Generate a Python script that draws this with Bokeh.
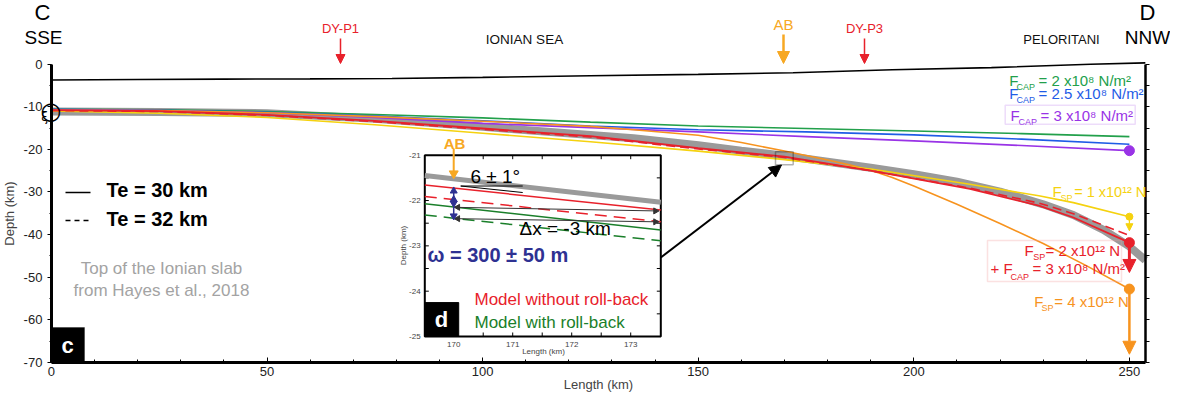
import numpy as np
from bokeh.plotting import figure
from bokeh.models import (Range1d, LinearAxis, FixedTicker, Label, Arrow,
                          NormalHead, BoxAnnotation)
from bokeh.core.properties import value
from bokeh.embed import file_html
from bokeh.resources import INLINE

FONT = "Liberation Sans"

# ---------------- data (Length km, Depth km) ----------------
surface_x = [0, 20, 40, 60, 79, 100, 125, 150, 172, 195, 218, 241, 253.7]
surface_y = [-3.7, -3.6, -3.5, -3.45, -3.35, -3.1, -2.7, -2.4, -2.0, -1.3, -0.8, 0.0, 0.3]

slab_x = [0, 25, 50, 75, 100, 125, 135, 150, 160, 170, 180, 190, 200, 210, 220, 230, 237, 244, 250, 253.7]
slab_y = [-11.1, -11.2, -11.5, -12.8, -14.7, -16.6, -17.4, -19.0, -20.3, -21.5, -22.9, -24.3,
          -25.8, -27.6, -29.9, -32.9, -35.4, -38.9, -42.8, -46.0]

cap_x = [0, 25, 50, 75, 100, 125, 150, 175, 200, 225, 250]
fcap2_y = [-10.6, -10.7, -11.1, -11.8, -12.6, -13.6, -14.5, -15.1, -15.7, -16.3, -17.0]
fcap25_y = [-10.6, -10.8, -11.3, -12.2, -13.3, -14.5, -15.4, -15.9, -16.6, -17.6, -18.8]
fcap3_y = [-10.7, -10.9, -11.4, -12.5, -13.9, -14.9, -15.9, -17.0, -18.0, -19.1, -20.3]

sp_x = [0, 25, 50, 75, 100, 125, 150, 170, 190, 213, 229, 237, 250]
fsp1_y = [-11.0, -11.5, -12.5, -14.2, -16.2, -18.2, -20.4, -22.4, -24.6, -28.2, -30.9, -32.5, -35.8]
fsp2_y = [-10.8, -11.0, -11.9, -13.3, -15.1, -16.9, -19.7, -21.7, -25.0, -29.3, -33.2, -36.0, -41.9]
fsp2_te32_y = [-10.9, -11.1, -12.0, -13.5, -15.3, -17.1, -19.9, -21.9, -25.0, -29.1, -32.6, -35.1, -40.2]

fsp4_x = [0, 25, 50, 75, 100, 125, 135, 150, 160, 170, 180, 185, 190, 195, 200, 210, 220, 230, 240, 250]
fsp4_y = [-10.8, -10.9, -11.4, -12.3, -13.4, -14.6, -15.4, -16.7, -18.4, -20.4, -22.5, -23.6, -24.9,
          -26.6, -28.6, -32.9, -37.4, -42.1, -47.3, -52.8]

tip_fsp1 = -39.1
tip_fsp2 = -48.9
tip_fsp4 = -68.1

# inset (d)
inset_x = [169.51, 173.51]
inset_slab = [-21.45, -22.04]
inset_red = [-21.66, -22.21]
inset_red_dash = [-21.91, -22.47]
inset_green = [-22.07, -22.65]
inset_green_dash = [-22.32, -22.89]
dx_y0 = [-22.15, -22.40]
dx_y1 = [-22.23, -22.47]
omega_y = [-21.75, -22.04, -22.38]

# ticks
x_major = [0, 50, 100, 150, 200, 250]
x_labels = ["0", "50", "100", "150", "200", "250"]
x_minor = list(range(0, 251, 10))
y_major = [0, -10, -20, -30, -40, -50, -60, -70]
y_labels = ["0", "-10", "-20", "-30", "-40", "-50", "-60", "-70"]
y_minor = list(range(0, -71, -5))
inset_xmajor = [170, 171, 172, 173]
inset_xlabels = ["170", "171", "172", "173"]
inset_xminor = [170, 170.5, 171, 171.5, 172, 172.5, 173]
inset_ymajor = [-21, -22, -23, -24, -25]
inset_ylabels = ["-21", "-22", "-23", "-24", "-25"]
inset_yminor = [-21.5, -22, -22.5, -23, -23.5, -24, -24.5]

X_END = 253.7
Y_BOTTOM = -70

GREEN, BLUE, PURPLE = "#22a04b", "#1f5ce6", "#9933e6"
YELLOW, RED, ORANGE = "#f5d20f", "#e8212b", "#f7931e"
GREY = "#9a9a9a"
AB_OR = "#f7a823"
DKGREEN = "#1a7f2a"
DKBLUE = "#2e3192"

# pixel helpers (reference picture -> data) for annotation placement only
def kx(px):
    return (px - 58.9) / 4.312

def dy(py):
    return (71.7 - py) / 4.259

def ix(px):
    return 170 + (px - 461) / 59.0

def iy(py):
    return -21 - (py - 162.7) / 45.3

p = figure(width=1170, height=397, x_range=Range1d(kx(8), kx(1178)), y_range=Range1d(dy(405), dy(8)),
           output_backend="svg", toolbar_location=None,
           min_border_left=0, min_border_right=0, min_border_top=0, min_border_bottom=0)
p.grid.visible = False
p.outline_line_color = None
p.background_fill_color = "white"

xa = p.xaxis[0]
xa.fixed_location = Y_BOTTOM
xa.bounds = (0, X_END)
xa.ticker = FixedTicker(ticks=x_major, minor_ticks=x_minor)
xa.major_label_overrides = dict(zip(x_major, x_labels))
xa.axis_line_width = 3
xa.major_tick_in = 5
xa.major_tick_out = 0
xa.minor_tick_in = 3
xa.minor_tick_out = 0
xa.major_label_standoff = 5
xa.major_label_text_font = FONT
xa.major_label_text_font_size = "13px"
xa.major_label_text_color = "#222222"
xa.axis_label = "Length (km)"
xa.axis_label_text_font = FONT
xa.axis_label_text_font_size = "13px"
xa.axis_label_text_font_style = "normal"
xa.axis_label_standoff = -3

ya = p.yaxis[0]
ya.fixed_location = 0
ya.bounds = (Y_BOTTOM, 0)
ya.ticker = FixedTicker(ticks=y_major, minor_ticks=y_minor)
ya.major_label_overrides = dict(zip(y_major, y_labels))
ya.axis_line_width = 3
ya.major_tick_out = 4
ya.major_tick_in = 0
ya.minor_tick_out = 2
ya.minor_tick_in = 0
ya.major_label_standoff = 5
ya.major_label_text_font = FONT
ya.major_label_text_font_size = "13px"
ya.major_label_text_color = "#222222"
ya.axis_label = "Depth (km)"
ya.axis_label_text_font = FONT
ya.axis_label_text_font_size = "13px"
ya.axis_label_text_font_style = "normal"
ya.axis_label_standoff = 4

ra = LinearAxis(fixed_location=X_END, bounds=(Y_BOTTOM, 0),
                ticker=FixedTicker(ticks=[], minor_ticks=y_minor),
                major_tick_out=0, major_tick_in=0, minor_tick_out=4, minor_tick_in=0,
                axis_line_width=2.5)
p.add_layout(ra, "right")

# ---------------- main curves ----------------
p.line(slab_x, slab_y, line_width=8, color=GREY, line_cap="butt")
p.line(surface_x, surface_y, line_width=1.6, color="black")
p.line(cap_x, fcap2_y, line_width=1.6, color=GREEN)
p.line(cap_x, fcap25_y, line_width=1.6, color=BLUE)
p.line(cap_x, fcap3_y, line_width=1.6, color=PURPLE)
p.line(fsp4_x, fsp4_y, line_width=1.6, color=ORANGE)
p.line(sp_x, fsp1_y, line_width=1.6, color=YELLOW)
p.line(sp_x, fsp2_te32_y, line_width=1.6, color=RED, line_dash="9 5")
p.line(sp_x, fsp2_y, line_width=1.8, color=RED)

p.scatter([cap_x[-1]], [fcap3_y[-1]], size=10, color=PURPLE)
p.scatter([sp_x[-1]], [fsp1_y[-1]], size=7, color=YELLOW)
p.scatter([sp_x[-1]], [fsp2_y[-1]], size=10, color=RED)
p.scatter([fsp4_x[-1]], [fsp4_y[-1]], size=10, color=ORANGE)

p.add_layout(Arrow(end=NormalHead(size=7, fill_color=YELLOW, line_color=YELLOW),
                   x_start=sp_x[-1], y_start=fsp1_y[-1], x_end=sp_x[-1], y_end=tip_fsp1,
                   line_color=YELLOW, line_width=1.2))
p.add_layout(Arrow(end=NormalHead(size=13, fill_color=RED, line_color=RED),
                   x_start=sp_x[-1], y_start=fsp2_y[-1], x_end=sp_x[-1], y_end=tip_fsp2,
                   line_color=RED, line_width=3))
p.add_layout(Arrow(end=NormalHead(size=13, fill_color=ORANGE, line_color=ORANGE),
                   x_start=fsp4_x[-1], y_start=fsp4_y[-1], x_end=fsp4_x[-1], y_end=tip_fsp4,
                   line_color=ORANGE, line_width=2.5))

# ---------------- labels helper ----------------
def lab(text, px, py, size, color="black", bold=False, align="left", angle=0, font=FONT):
    p.add_layout(Label(x=kx(px), y=dy(py), text=text, text_font=font,
                       text_font_size=f"{size}px", text_color=color,
                       text_font_style="bold" if bold else "normal",
                       text_align=align, text_baseline="middle", angle=angle))

# top annotations
lab("C", 50, 20, 22, align="center")
lab("SSE", 51, 45, 19, align="center")
lab("D", 1155, 20, 22, align="center")
lab("NNW", 1155, 45, 19, align="center")
lab("IONIAN SEA", 532, 47, 13.5, color="#111111", align="center")
lab("PELORITANI", 1069, 47, 13, color="#111111", align="center")
lab("DY-P1", 348, 36, 13, color=RED, align="center")
lab("DY-P3", 872, 36, 13, color=RED, align="center")
lab("AB", 791, 32, 15, color=AB_OR, align="center")
for px_, col, w, hs, y0 in [(348, RED, 1.5, 9, 46), (872, RED, 1.5, 9, 46), (791, AB_OR, 2.5, 12, 42)]:
    p.add_layout(Arrow(end=NormalHead(size=hs, fill_color=col, line_color=col),
                       x_start=kx(px_), y_start=dy(y0), x_end=kx(px_), y_end=dy(71),
                       line_color=col, line_width=w))

# hinge symbol at x=0
lab("\u25CB", 58.5, 118, 24, font="DejaVu Sans", align="center")
lab("\u03BE", 52, 124, 12, font="DejaVu Sans", align="center")

# Te legend
p.line([kx(73), kx(98)], [dy(200), dy(200)], line_width=1.6, color="black")
p.line([kx(73), kx(98)], [dy(228), dy(228)], line_width=1.6, color="black", line_dash="5 4")
lab("Te = 30 km", 114, 197, 20, bold=True)
lab("Te = 32 km", 114, 226, 20, bold=True)

lab("Top of the Ionian slab", 169, 276, 17, color="#a3a3a3", align="center")
lab("from Hayes et al., 2018", 169, 298, 17, color="#a3a3a3", align="center")

# panel letter c
p.add_layout(BoxAnnotation(left=0, right=kx(92), bottom=Y_BOTTOM, top=dy(335),
                           fill_color="black", fill_alpha=1, line_color="black"))
lab("c", 75, 353, 22, color="white", bold=True, align="center")

# right-hand force labels
rich = [
    ("F", 1016.7, 87.5, 15, GREEN), ("CAP", 1024, 94, 9, GREEN), ("= 2 x10\u2078 N/m\u00B2", 1046, 87.5, 15, GREEN),
    ("F", 1016.7, 101, 15, BLUE), ("CAP", 1024, 107.5, 9, BLUE), ("= 2.5 x10\u2078 N/m\u00B2", 1046, 101, 15, BLUE),
    ("F", 1018, 122.5, 15, PURPLE), ("CAP", 1026, 129, 9, PURPLE), ("= 3 x10\u2078 N/m\u00B2", 1048, 122.5, 15, PURPLE),
    ("F", 1060, 199, 15, YELLOW), ("SP", 1068, 205.5, 9, YELLOW), ("= 1 x10\u00B9\u00B2 N", 1081.7, 199, 14.5, YELLOW),
    ("F", 1032, 257.5, 15, RED), ("SP", 1040.7, 264.5, 9, RED), ("= 2 x10\u00B9\u00B2 N", 1053, 257.5, 15, RED),
    ("+ F", 998, 276, 15, RED), ("CAP", 1018, 284.5, 9, RED), ("= 3 x10\u2078 N/m\u00B2", 1040, 276, 15, RED),
    ("F", 1041.7, 309, 15, ORANGE), ("SP", 1049, 315.5, 9, ORANGE), ("= 4 x10\u00B9\u00B2 N", 1061.7, 309, 15, ORANGE),
]
for t, x_, y_, s_, c_ in rich:
    lab(t, x_, y_, s_, color=c_)
p.add_layout(BoxAnnotation(left=kx(1012.7), right=kx(1142.7), top=dy(112.7), bottom=dy(131.7),
                           fill_alpha=0, line_color="#c48af0", line_width=1.5))
p.add_layout(BoxAnnotation(left=kx(995), right=kx(1129), top=dy(248), bottom=dy(289),
                           fill_alpha=0, line_color="#f29a9a", line_width=1.5))

# location box of inset and pointer
p.add_layout(BoxAnnotation(left=kx(783), right=kx(800.7), top=dy(159.3), bottom=dy(172.3),
                           fill_alpha=0, line_color="black", line_width=1.5))
p.add_layout(Arrow(end=NormalHead(size=12, fill_color="black", line_color="black"),
                   x_start=kx(668.3), y_start=dy(265), x_end=kx(789), y_end=dy(172.5),
                   line_color="black", line_width=2))

# ---------------- inset (d) ----------------
ixr = Range1d(169.51, 173.51)
iyr = Range1d(-25, -21)
ins = p.subplot(x_source=ixr, y_source=iyr,
                x_target=Range1d(kx(432.3), kx(668.3)), y_target=Range1d(dy(344), dy(162.7)))
ins.quad(left=[ixr.start], right=[ixr.end], bottom=[iyr.start], top=[iyr.end],
         fill_color="white", line_color="black", line_width=2)
tlx = 4 / 59.0
tly = 4 / 45.3
ins.segment(x0=inset_xminor, y0=[iyr.start] * len(inset_xminor), x1=inset_xminor,
            y1=[iyr.start + tly] * len(inset_xminor), color="black", line_width=1)
ins.segment(x0=inset_xminor, y0=[iyr.end] * len(inset_xminor), x1=inset_xminor,
            y1=[iyr.end - tly] * len(inset_xminor), color="black", line_width=1)
ins.segment(x0=[ixr.start] * len(inset_yminor), y0=inset_yminor, x1=[ixr.start + tlx] * len(inset_yminor),
            y1=inset_yminor, color="black", line_width=1)
ins.segment(x0=[ixr.end] * len(inset_yminor), y0=inset_yminor, x1=[ixr.end - tlx] * len(inset_yminor),
            y1=inset_yminor, color="black", line_width=1)
ins.text(x=inset_xmajor, y=[iyr.start - 0.18] * 4, text=inset_xlabels, text_font=value(FONT),
         text_font_size="8px", text_color="#444444", text_align="center", text_baseline="middle")
ins.text(x=[ixr.start - 0.07] * 5, y=inset_ymajor, text=inset_ylabels, text_font=value(FONT),
         text_font_size="8px", text_color="#444444", text_align="right", text_baseline="middle")

ins.line(inset_x, inset_slab, line_width=5, color=GREY)
ins.line(inset_x, inset_red, line_width=1.5, color=RED)
ins.line(inset_x, inset_red_dash, line_width=1.5, color=RED, line_dash="12 7")
ins.line(inset_x, inset_green, line_width=1.5, color=DKGREEN)
ins.line(inset_x, inset_green_dash, line_width=1.5, color=DKGREEN, line_dash="12 7")

# delta-x arrows
ins.segment(x0=[170.02, 170.02], y0=dx_y0, x1=[173.45, 173.45], y1=dx_y1, color="#333333", line_width=1)
ins.scatter([170.07, 170.07], dx_y0, marker="triangle", angle=np.pi / 2, size=6, color="#333333")
ins.scatter([173.42, 173.42], dx_y1, marker="triangle", angle=-np.pi / 2, size=6, color="#333333")

# omega arrows
ins.segment(x0=[170.0], y0=[omega_y[0]], x1=[170.0], y1=[omega_y[2]], color=DKBLUE, line_width=1.5)
ins.scatter([170.0, 170.0], [omega_y[0] - 0.04, omega_y[1] + 0.06], marker="triangle", size=7, color=DKBLUE)
ins.scatter([170.0, 170.0], [omega_y[1] - 0.02, omega_y[2] + 0.04], marker="inverted_triangle", size=7, color=DKBLUE)

# AB arrow in inset
ins.segment(x0=[170.0], y0=[iy(156)], x1=[170.0], y1=[iy(180)], color=AB_OR, line_width=2)
ins.scatter([170.0], [iy(181)], marker="inverted_triangle", size=9, color=AB_OR)

# angle lines
ins.segment(x0=[ix(468)], y0=[iy(193.5)], x1=[ix(530)], y1=[iy(193.5)], color="black", line_width=1)
ins.segment(x0=[ix(468)], y0=[iy(193.5)], x1=[ix(530)], y1=[iy(200)], color="black", line_width=1)

# panel letter d
ins.quad(left=[ixr.start], right=[ix(466)], bottom=[iyr.start], top=[iy(310)], fill_color="black", line_color="black")

lab("AB", 462, 151, 15, color=AB_OR, bold=True, align="center")
lab("6 \u00B1 1\u00B0", 478, 184, 19)
lab("\u0394x = -3 km", 527, 236, 19)
lab("\u03C9 = 300 \u00B1 50 m", 435, 262.5, 20, color=DKBLUE, bold=True)
lab("Model without roll-back", 482, 307, 17, color=RED)
lab("Model with roll-back", 482, 330, 17, color=DKGREEN)
lab("d", 449, 327, 22, color="white", bold=True, align="center")
lab("Depth (km)", 411, 253, 8, color="#444444", align="center", angle=np.pi / 2)
lab("Length (km)", 551, 359, 8, color="#444444", align="center")

open("out.html", "w").write(file_html(p, INLINE))
